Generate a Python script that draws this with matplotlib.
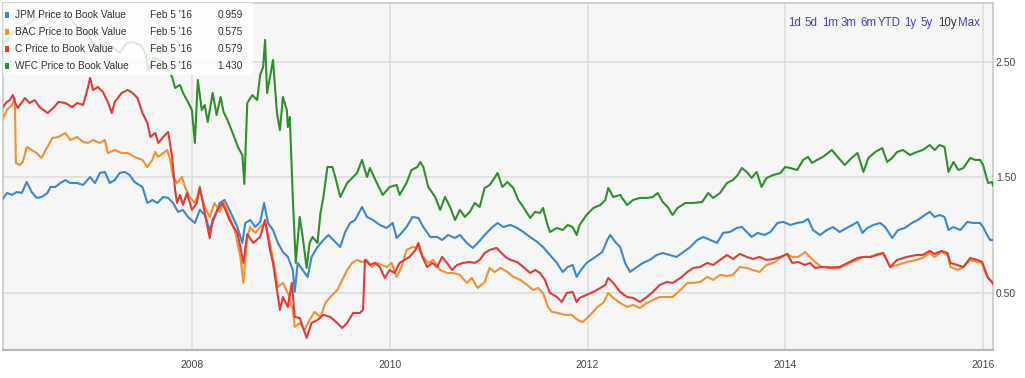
import matplotlib
matplotlib.use("Agg")
import matplotlib.pyplot as plt
from matplotlib.patches import Rectangle

FONT = ['Liberation Sans Narrow', 'Liberation Sans', 'DejaVu Sans']

# ---------------- data (decimal year, price-to-book) ----------------
jpm_t = [2006.08, 2006.13, 2006.18, 2006.23, 2006.28, 2006.33, 2006.38, 2006.43, 2006.48, 2006.54,
         2006.57, 2006.62, 2006.67, 2006.72, 2006.77, 2006.84, 2006.90, 2006.97, 2007.02, 2007.07,
         2007.12, 2007.17, 2007.22, 2007.27, 2007.32, 2007.37, 2007.42, 2007.50, 2007.55, 2007.60,
         2007.65, 2007.71, 2007.76, 2007.81, 2007.86, 2007.91, 2007.96, 2008.03, 2008.08, 2008.13,
         2008.18, 2008.23, 2008.28, 2008.33, 2008.38, 2008.46, 2008.51, 2008.54, 2008.59, 2008.64,
         2008.69, 2008.73, 2008.77, 2008.82, 2008.87, 2008.92, 2008.97, 2009.02, 2009.04, 2009.07,
         2009.12, 2009.17, 2009.21, 2009.27, 2009.33, 2009.38, 2009.43, 2009.50, 2009.55, 2009.60,
         2009.65, 2009.72, 2009.77, 2009.83, 2009.90, 2009.97, 2010.03, 2010.07, 2010.12, 2010.17,
         2010.23, 2010.29, 2010.34, 2010.41, 2010.48, 2010.53, 2010.59, 2010.66, 2010.71, 2010.78,
         2010.84, 2010.89, 2010.96, 2011.03, 2011.09, 2011.15, 2011.22, 2011.29, 2011.35, 2011.42,
         2011.49, 2011.55, 2011.62, 2011.69, 2011.75, 2011.80, 2011.85, 2011.89, 2011.92, 2011.99,
         2012.08, 2012.15, 2012.20, 2012.23, 2012.28, 2012.33, 2012.38, 2012.43, 2012.50, 2012.56,
         2012.63, 2012.70, 2012.76, 2012.83, 2012.90, 2012.97, 2013.04, 2013.11, 2013.17, 2013.24,
         2013.31, 2013.37, 2013.44, 2013.51, 2013.56, 2013.61, 2013.66, 2013.72, 2013.79, 2013.85,
         2013.92, 2013.98, 2014.05, 2014.12, 2014.18, 2014.23, 2014.28, 2014.35, 2014.42, 2014.48,
         2014.55, 2014.62, 2014.68, 2014.73, 2014.78, 2014.83, 2014.89, 2014.96, 2015.01, 2015.08,
         2015.14, 2015.21, 2015.28, 2015.34, 2015.41, 2015.46, 2015.51, 2015.56, 2015.61, 2015.65,
         2015.70, 2015.77, 2015.84, 2015.90, 2015.97, 2016.00, 2016.04, 2016.07, 2016.10]
jpm_v = [1.305, 1.366, 1.349, 1.374, 1.366, 1.461, 1.374, 1.323, 1.331, 1.366,
         1.418, 1.418, 1.452, 1.478, 1.452, 1.452, 1.435, 1.504, 1.452, 1.539,
         1.548, 1.452, 1.478, 1.539, 1.548, 1.522, 1.461, 1.418, 1.279, 1.305,
         1.279, 1.331, 1.323, 1.279, 1.202, 1.219, 1.158, 1.106, 1.219, 1.175,
         1.045, 1.158, 1.279, 1.305, 1.219, 1.071, 0.933, 1.106, 1.132, 1.071,
         1.115, 1.279, 1.106, 1.045, 0.933, 0.855, 0.812, 0.699, 0.509, 0.760,
         0.699, 0.639, 0.812, 0.898, 0.959, 1.002, 0.959, 0.898, 1.028, 1.106,
         1.132, 1.245, 1.158, 1.132, 1.089, 1.063, 1.106, 0.976, 1.020, 1.071,
         1.158, 1.150, 1.071, 0.985, 0.985, 0.959, 1.002, 0.976, 1.002, 0.933,
         0.890, 0.933, 1.002, 1.063, 1.106, 1.071, 1.089, 1.063, 1.028, 0.985,
         0.942, 0.898, 0.829, 0.760, 0.682, 0.725, 0.742, 0.639, 0.682, 0.760,
         0.812, 0.855, 0.959, 1.002, 0.942, 0.898, 0.760, 0.682, 0.725, 0.760,
         0.786, 0.829, 0.846, 0.829, 0.812, 0.855, 0.898, 0.959, 0.985, 0.959,
         0.933, 1.020, 1.028, 1.063, 1.071, 1.028, 0.985, 1.020, 1.002, 1.028,
         1.106, 1.115, 1.089, 1.106, 1.115, 1.141, 1.045, 1.002, 1.045, 1.071,
         1.028, 1.063, 1.089, 1.115, 1.020, 1.063, 1.089, 1.106, 1.071, 0.976,
         1.045, 1.063, 1.106, 1.132, 1.175, 1.202, 1.158, 1.175, 1.158, 1.045,
         1.071, 1.045, 1.115, 1.106, 1.106, 1.071, 1.002, 0.959, 0.959]

bac_t = [2006.08, 2006.13, 2006.18, 2006.21, 2006.22, 2006.26, 2006.29, 2006.33, 2006.38, 2006.43,
         2006.48, 2006.51, 2006.59, 2006.65, 2006.72, 2006.77, 2006.84, 2006.90, 2006.95, 2007.00,
         2007.07, 2007.12, 2007.15, 2007.22, 2007.29, 2007.35, 2007.42, 2007.50, 2007.55, 2007.60,
         2007.63, 2007.66, 2007.71, 2007.75, 2007.78, 2007.81, 2007.85, 2007.90, 2007.93, 2007.98,
         2008.03, 2008.08, 2008.13, 2008.18, 2008.23, 2008.28, 2008.33, 2008.38, 2008.44, 2008.49,
         2008.52, 2008.56, 2008.59, 2008.64, 2008.69, 2008.74, 2008.79, 2008.84, 2008.87, 2008.92,
         2008.97, 2009.02, 2009.04, 2009.09, 2009.14, 2009.19, 2009.24, 2009.30, 2009.35, 2009.40,
         2009.47, 2009.52, 2009.57, 2009.62, 2009.67, 2009.72, 2009.77, 2009.82, 2009.87, 2009.92,
         2009.97, 2010.02, 2010.07, 2010.12, 2010.17, 2010.23, 2010.29, 2010.34, 2010.39, 2010.44,
         2010.51, 2010.58, 2010.64, 2010.71, 2010.78, 2010.83, 2010.89, 2010.96, 2011.01, 2011.06,
         2011.12, 2011.19, 2011.25, 2011.32, 2011.39, 2011.45, 2011.50, 2011.55, 2011.60, 2011.64,
         2011.70, 2011.77, 2011.84, 2011.90, 2011.95, 2012.03, 2012.10, 2012.16, 2012.21, 2012.26,
         2012.33, 2012.40, 2012.46, 2012.53, 2012.60, 2012.66, 2012.73, 2012.80, 2012.86, 2012.94,
         2013.01, 2013.07, 2013.14, 2013.21, 2013.27, 2013.34, 2013.41, 2013.47, 2013.54, 2013.61,
         2013.67, 2013.74, 2013.81, 2013.88, 2013.95, 2014.02, 2014.07, 2014.13, 2014.20, 2014.25,
         2014.30, 2014.37, 2014.45, 2014.55, 2014.65, 2014.73, 2014.79, 2014.86, 2014.93, 2014.99,
         2015.06, 2015.13, 2015.23, 2015.33, 2015.39, 2015.46, 2015.51, 2015.58, 2015.64, 2015.67,
         2015.74, 2015.80, 2015.87, 2015.94, 2015.99, 2016.02, 2016.05, 2016.09, 2016.10]
bac_v = [1.998, 2.084, 2.128, 2.188, 1.626, 1.608, 1.634, 1.764, 1.738, 1.712,
         1.669, 1.721, 1.842, 1.851, 1.885, 1.825, 1.851, 1.807, 1.799, 1.825,
         1.799, 1.825, 1.712, 1.738, 1.712, 1.712, 1.678, 1.652, 1.591, 1.652,
         1.721, 1.678, 1.712, 1.738, 1.652, 1.504, 1.452, 1.504, 1.418, 1.331,
         1.279, 1.392, 1.245, 1.158, 1.279, 1.202, 1.279, 1.158, 1.020, 0.812,
         0.587, 0.985, 1.071, 1.020, 1.071, 1.106, 0.933, 0.699, 0.552, 0.587,
         0.500, 0.353, 0.206, 0.240, 0.180, 0.266, 0.336, 0.292, 0.414, 0.465,
         0.526, 0.613, 0.699, 0.760, 0.786, 0.768, 0.786, 0.725, 0.760, 0.742,
         0.725, 0.760, 0.639, 0.725, 0.872, 0.898, 0.890, 0.812, 0.760, 0.786,
         0.699, 0.673, 0.673, 0.656, 0.587, 0.630, 0.543, 0.595, 0.717, 0.682,
         0.717, 0.682, 0.639, 0.613, 0.569, 0.526, 0.543, 0.500, 0.379, 0.336,
         0.327, 0.310, 0.310, 0.266, 0.249, 0.310, 0.379, 0.414, 0.500, 0.457,
         0.414, 0.379, 0.396, 0.370, 0.414, 0.439, 0.465, 0.465, 0.465, 0.526,
         0.587, 0.587, 0.595, 0.639, 0.613, 0.656, 0.647, 0.656, 0.725, 0.717,
         0.699, 0.682, 0.742, 0.760, 0.803, 0.838, 0.812, 0.812, 0.855, 0.812,
         0.768, 0.725, 0.725, 0.717, 0.760, 0.786, 0.812, 0.812, 0.838, 0.846,
         0.725, 0.742, 0.768, 0.786, 0.803, 0.846, 0.812, 0.855, 0.829, 0.725,
         0.699, 0.725, 0.786, 0.768, 0.760, 0.682, 0.630, 0.595, 0.575]

c_t = [2006.08, 2006.13, 2006.16, 2006.19, 2006.21, 2006.24, 2006.31, 2006.36, 2006.41, 2006.46,
       2006.54, 2006.60, 2006.65, 2006.72, 2006.79, 2006.84, 2006.90, 2006.95, 2006.97, 2007.00,
       2007.05, 2007.10, 2007.15, 2007.19, 2007.22, 2007.29, 2007.35, 2007.40, 2007.45, 2007.50,
       2007.55, 2007.58, 2007.63, 2007.66, 2007.71, 2007.76, 2007.80, 2007.83, 2007.85, 2007.88,
       2007.91, 2007.95, 2008.00, 2008.05, 2008.08, 2008.13, 2008.18, 2008.21, 2008.26, 2008.31,
       2008.38, 2008.46, 2008.49, 2008.52, 2008.56, 2008.62, 2008.69, 2008.74, 2008.79, 2008.82,
       2008.86, 2008.89, 2008.92, 2008.97, 2009.01, 2009.04, 2009.09, 2009.16, 2009.21, 2009.27,
       2009.33, 2009.40, 2009.47, 2009.52, 2009.57, 2009.63, 2009.70, 2009.73, 2009.75, 2009.80,
       2009.85, 2009.90, 2009.95, 2010.00, 2010.05, 2010.10, 2010.15, 2010.20, 2010.26, 2010.29,
       2010.33, 2010.38, 2010.43, 2010.48, 2010.53, 2010.58, 2010.63, 2010.68, 2010.74, 2010.81,
       2010.86, 2010.91, 2010.96, 2011.01, 2011.08, 2011.12, 2011.17, 2011.22, 2011.29, 2011.35,
       2011.42, 2011.47, 2011.52, 2011.57, 2011.62, 2011.69, 2011.74, 2011.79, 2011.85, 2011.89,
       2011.92, 2011.99, 2012.06, 2012.13, 2012.18, 2012.21, 2012.26, 2012.33, 2012.40, 2012.46,
       2012.53, 2012.60, 2012.66, 2012.73, 2012.80, 2012.86, 2012.94, 2013.01, 2013.07, 2013.14,
       2013.21, 2013.27, 2013.34, 2013.41, 2013.47, 2013.54, 2013.61, 2013.67, 2013.74, 2013.81,
       2013.88, 2013.95, 2014.02, 2014.07, 2014.13, 2014.20, 2014.25, 2014.30, 2014.37, 2014.45,
       2014.55, 2014.65, 2014.73, 2014.79, 2014.86, 2014.93, 2014.99, 2015.06, 2015.13, 2015.23,
       2015.33, 2015.39, 2015.46, 2015.51, 2015.58, 2015.64, 2015.67, 2015.74, 2015.80, 2015.87,
       2015.94, 2015.99, 2016.02, 2016.05, 2016.09, 2016.10]
c_v = [2.102, 2.154, 2.171, 2.214, 2.154, 2.102, 2.188, 2.145, 2.171, 2.110,
       2.058, 2.102, 2.154, 2.145, 2.110, 2.145, 2.128, 2.284, 2.362, 2.258,
       2.284, 2.240, 2.154, 2.058, 2.154, 2.232, 2.258, 2.232, 2.188, 2.058,
       1.972, 1.851, 1.885, 1.799, 1.851, 1.894, 1.678, 1.392, 1.279, 1.349,
       1.262, 1.366, 1.219, 1.279, 1.418, 1.193, 0.976, 1.132, 1.219, 1.279,
       1.132, 1.020, 0.898, 0.760, 1.010, 0.933, 0.985, 1.132, 0.872, 0.760,
       0.526, 0.353, 0.465, 0.379, 0.587, 0.292, 0.284, 0.111, 0.240, 0.266,
       0.310, 0.292, 0.240, 0.197, 0.240, 0.327, 0.327, 0.353, 0.786, 0.742,
       0.760, 0.725, 0.630, 0.699, 0.673, 0.760, 0.786, 0.812, 0.872, 0.933,
       0.812, 0.725, 0.760, 0.725, 0.812, 0.760, 0.699, 0.742, 0.760, 0.768,
       0.760, 0.786, 0.846, 0.872, 0.890, 0.855, 0.812, 0.786, 0.768, 0.725,
       0.673, 0.699, 0.673, 0.613, 0.500, 0.465, 0.422, 0.500, 0.509, 0.422,
       0.457, 0.483, 0.509, 0.543, 0.569, 0.630, 0.587, 0.509, 0.465, 0.457,
       0.422, 0.465, 0.509, 0.569, 0.595, 0.587, 0.630, 0.682, 0.717, 0.725,
       0.760, 0.742, 0.786, 0.829, 0.794, 0.838, 0.812, 0.794, 0.812, 0.786,
       0.794, 0.812, 0.838, 0.760, 0.768, 0.742, 0.760, 0.717, 0.725, 0.717,
       0.725, 0.768, 0.803, 0.812, 0.812, 0.829, 0.846, 0.725, 0.786, 0.812,
       0.829, 0.829, 0.864, 0.838, 0.864, 0.846, 0.760, 0.742, 0.725, 0.803,
       0.786, 0.768, 0.699, 0.630, 0.595, 0.579]

wfc_t = [2006.06, 2006.13, 2006.19, 2006.26, 2006.36, 2006.43, 2006.54, 2006.60, 2006.67, 2006.74,
         2006.79, 2006.84, 2006.94, 2007.00, 2007.07, 2007.14, 2007.20, 2007.27, 2007.34, 2007.40,
         2007.48, 2007.53, 2007.56, 2007.61, 2007.68, 2007.75, 2007.80, 2007.83, 2007.88, 2007.91,
         2007.95, 2008.00, 2008.03, 2008.06, 2008.10, 2008.13, 2008.16, 2008.21, 2008.25, 2008.29,
         2008.32, 2008.36, 2008.42, 2008.47, 2008.51, 2008.53, 2008.56, 2008.61, 2008.66, 2008.69,
         2008.72, 2008.74, 2008.76, 2008.79, 2008.82, 2008.86, 2008.89, 2008.92, 2008.96, 2008.97,
         2008.99, 2009.02, 2009.05, 2009.09, 2009.12, 2009.16, 2009.19, 2009.22, 2009.27, 2009.30,
         2009.33, 2009.37, 2009.42, 2009.45, 2009.50, 2009.57, 2009.63, 2009.67, 2009.72, 2009.77,
         2009.80, 2009.87, 2009.93, 2010.00, 2010.07, 2010.10, 2010.17, 2010.22, 2010.28, 2010.31,
         2010.34, 2010.39, 2010.46, 2010.51, 2010.56, 2010.61, 2010.66, 2010.71, 2010.76, 2010.81,
         2010.86, 2010.91, 2010.96, 2011.01, 2011.06, 2011.09, 2011.14, 2011.19, 2011.25, 2011.30,
         2011.35, 2011.42, 2011.47, 2011.52, 2011.55, 2011.59, 2011.62, 2011.69, 2011.75, 2011.80,
         2011.85, 2011.89, 2011.92, 2011.99, 2012.06, 2012.13, 2012.18, 2012.21, 2012.26, 2012.33,
         2012.40, 2012.46, 2012.53, 2012.60, 2012.66, 2012.71, 2012.76, 2012.81, 2012.86, 2012.91,
         2012.99, 2013.07, 2013.16, 2013.22, 2013.27, 2013.34, 2013.41, 2013.47, 2013.52, 2013.56,
         2013.61, 2013.66, 2013.71, 2013.76, 2013.81, 2013.88, 2013.95, 2014.00, 2014.05, 2014.12,
         2014.18, 2014.23, 2014.27, 2014.32, 2014.38, 2014.47, 2014.53, 2014.60, 2014.67, 2014.73,
         2014.79, 2014.84, 2014.91, 2014.98, 2015.03, 2015.08, 2015.13, 2015.19, 2015.26, 2015.33,
         2015.39, 2015.46, 2015.51, 2015.56, 2015.61, 2015.65, 2015.70, 2015.75, 2015.80, 2015.87,
         2015.92, 2015.97, 2016.00, 2016.05, 2016.09, 2016.10]
wfc_v = [2.647, 2.691, 2.751, 2.794, 2.838, 2.881, 2.907, 2.924, 2.890, 2.907,
         2.864, 2.803, 2.751, 2.664, 2.630, 2.664, 2.630, 2.578, 2.664, 2.673,
         2.647, 2.578, 2.431, 2.535, 2.517, 2.457, 2.370, 2.275, 2.301, 2.232,
         2.171, 2.084, 1.799, 2.344, 2.084, 2.128, 1.981, 2.232, 2.041, 2.197,
         2.067, 1.998, 1.868, 1.755, 1.695, 1.444, 2.145, 2.214, 2.171, 2.388,
         2.457, 2.691, 2.232, 2.370, 2.517, 2.058, 1.911, 2.197, 2.084, 1.937,
         2.024, 1.331, 0.760, 1.158, 0.985, 0.717, 0.933, 0.985, 0.933, 1.193,
         1.331, 1.591, 1.591, 1.504, 1.331, 1.452, 1.504, 1.539, 1.652, 1.504,
         1.582, 1.452, 1.349, 1.418, 1.435, 1.349, 1.452, 1.565, 1.591, 1.634,
         1.591, 1.418, 1.331, 1.219, 1.331, 1.245, 1.132, 1.219, 1.158, 1.202,
         1.279, 1.245, 1.409, 1.435, 1.496, 1.539, 1.418, 1.461, 1.409, 1.305,
         1.245, 1.150, 1.202, 1.193, 1.236, 1.106, 1.028, 1.063, 1.045, 1.089,
         1.071, 1.002, 1.089, 1.175, 1.236, 1.262, 1.305, 1.409, 1.331, 1.349,
         1.262, 1.305, 1.323, 1.323, 1.331, 1.366, 1.288, 1.245, 1.175, 1.236,
         1.279, 1.279, 1.288, 1.366, 1.323, 1.366, 1.452, 1.478, 1.522, 1.582,
         1.548, 1.496, 1.548, 1.418, 1.496, 1.522, 1.539, 1.591, 1.582, 1.565,
         1.652, 1.678, 1.626, 1.652, 1.678, 1.738, 1.678, 1.608, 1.669, 1.712,
         1.548, 1.669, 1.721, 1.755, 1.634, 1.669, 1.721, 1.738, 1.695, 1.721,
         1.738, 1.781, 1.738, 1.781, 1.764, 1.548, 1.634, 1.565, 1.582, 1.669,
         1.652, 1.652, 1.608, 1.452, 1.461, 1.430]

series_names = ["JPM Price to Book Value", "BAC Price to Book Value",
                "C Price to Book Value", "WFC Price to Book Value"]
series_dates = ["Feb 5 '16", "Feb 5 '16", "Feb 5 '16", "Feb 5 '16"]
series_last = ["0.959", "0.575", "0.579", "1.430"]
series_colors = ["#3a87d8", "#f39130", "#df3b3b", "#2f8f2f"]

x_ticks = [2008, 2010, 2012, 2014, 2016]
x_labels = ["2008", "2010", "2012", "2014", "2016"]
y_ticks = [0.5, 1.5, 2.5]
y_labels = ["0.50", "1.50", "2.50"]
range_buttons = ["1d", "5d", "1m", "3m", "6m", "YTD", "1y", "5y", "10y", "Max"]
range_active = "10y"

# ---------------- figure ----------------
W, H = 1025, 378
fig = plt.figure(figsize=(W / 100, H / 100), dpi=100)
fig.patch.set_facecolor("white")
L, R, T, B = 3, 993, 3, 350
ax = fig.add_axes([L / W, 1 - B / H, (R - L) / W, (B - T) / H])
ax.set_facecolor("#f6f6f6")

for t, v, c in zip([jpm_t, bac_t, c_t, wfc_t], [jpm_v, bac_v, c_v, wfc_v], series_colors):
    ax.plot(t, v, color=c, lw=1.5, solid_joinstyle="round", zorder=3)

ax.set_xlim(2006.09, 2016.10)
ax.set_ylim(0.006, 3.011)

ax.set_xticks(x_ticks)
ax.set_xticklabels(x_labels)
ax.set_yticks(y_ticks)
ax.set_yticklabels(y_labels)
ax.yaxis.tick_right()
ax.tick_params(axis="both", length=0, labelsize=7.5, labelcolor="#444444")
ax.tick_params(axis="x", pad=7)
ax.tick_params(axis="y", pad=2)
for lab in ax.get_xticklabels() + ax.get_yticklabels():
    lab.set_family(FONT)
ax.grid(True, color="#dddddd", lw=1.1, zorder=0)
ax.set_axisbelow(True)
for s in ax.spines.values():
    s.set_color("#c8c8c8")
    s.set_linewidth(1.2)
ax.spines["bottom"].set_color("#b8b8b8")
ax.spines["bottom"].set_linewidth(1.6)

# ---------------- legend box ----------------
def ax_x(px):
    return (px - L) / (R - L)

def ax_y(py):
    return 1 - (py - T) / (B - T)

ax.add_patch(Rectangle((0, ax_y(75)), ax_x(253), 1 - ax_y(75), transform=ax.transAxes,
                       facecolor="white", alpha=0.82, edgecolor="none", zorder=5))
row_y = [15, 32, 49, 66]
for i in range(4):
    yy = ax_y(row_y[i])
    ax.add_patch(Rectangle((ax_x(4.5), yy - 3 / (B - T)), 4.5 / (R - L), 6.5 / (B - T),
                           transform=ax.transAxes, facecolor=series_colors[i],
                           edgecolor="none", zorder=6))
    ax.text(ax_x(15), yy, series_names[i], transform=ax.transAxes, ha="left", va="center",
            fontsize=7.3, color="#333333", family=FONT, zorder=6)
    ax.text(ax_x(150), yy, series_dates[i], transform=ax.transAxes, ha="left", va="center",
            fontsize=7.3, color="#333333", family=FONT, zorder=6)
    ax.text(ax_x(243), yy, series_last[i], transform=ax.transAxes, ha="right", va="center",
            fontsize=7.3, color="#333333", family=FONT, zorder=6)

# ---------------- range selector ----------------
btn_x = [795, 811, 830, 849, 868, 889, 910, 927, 947, 969]
for lab, bx in zip(range_buttons, btn_x):
    col = "#333333" if lab == range_active else "#4343c4"
    ax.text(ax_x(bx), ax_y(23), lab, transform=ax.transAxes, ha="center", va="center",
            fontsize=8.3, color=col, family=FONT, zorder=6)

fig.savefig("out.png", dpi=100, facecolor="white")
